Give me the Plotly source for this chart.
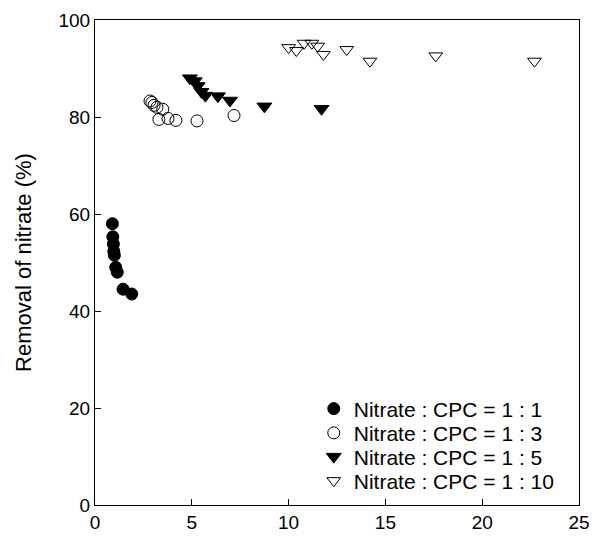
import plotly.graph_objects as go

# Data
x_11 = [0.9, 0.92, 0.95, 0.97, 1.0, 1.07, 1.15, 1.45, 1.9]
y_11 = [58.0, 55.3, 53.8, 52.3, 51.5, 49.0, 48.0, 44.5, 43.5]

x_13 = [2.84, 2.94, 3.05, 3.2, 3.5, 3.3, 3.77, 4.18, 5.27, 7.18]
y_13 = [83.3, 83.0, 82.4, 82.0, 81.6, 79.5, 79.7, 79.3, 79.2, 80.3]

x_15 = [4.9, 5.15, 5.3, 5.5, 5.7, 6.35, 6.97, 8.75, 11.7]
y_15 = [88.0, 87.4, 86.4, 85.2, 84.4, 84.3, 83.4, 82.2, 81.7]

x_110 = [10.0, 10.4, 10.8, 11.2, 11.5, 11.8, 13.0, 14.2, 17.6, 22.7]
y_110 = [94.3, 93.7, 95.2, 95.2, 94.6, 92.9, 93.9, 91.5, 92.6, 91.5]

labels = ["Nitrate : CPC = 1 : 1", "Nitrate : CPC = 1 : 3",
          "Nitrate : CPC = 1 : 5", "Nitrate : CPC = 1 : 10"]

x_ticks = [0, 5, 10, 15, 20, 25]
y_ticks = [0, 20, 40, 60, 80, 100]

series = [
    (x_11, y_11, "circle", 12),
    (x_13, y_13, "circle-open", 12),
    (x_15, y_15, "triangle-down", 13),
    (x_110, y_110, "triangle-down-open", 12),
]
legend_ids = ["legend", "legend2", "legend3", "legend4"]
legend_y = [0.198, 0.148, 0.099, 0.0495]

fig = go.Figure()
for (xs, ys, sym, sz), name, lid in zip(series, labels, legend_ids):
    fig.add_trace(go.Scatter(x=xs, y=ys, mode="markers", name=name, legend=lid,
                             marker=dict(symbol=sym, size=sz, color="black",
                                         line=dict(color="black", width=1))))

axis_common = dict(showgrid=False, zeroline=False, showline=True, linecolor="black",
                   linewidth=1, mirror=True, ticks="inside", ticklen=6, automargin=False,
                   tickcolor="black", tickfont=dict(family="Liberation Sans, Arial", size=19, color="black"))

layout_legends = {}
for lid, ly in zip(legend_ids, legend_y):
    layout_legends[lid] = dict(x=0.452, y=ly, xanchor="left", yanchor="middle",
                               bgcolor="rgba(0,0,0,0)", font=dict(size=21),
                               borderwidth=0)

fig.update_layout(
    width=597, height=537,
    margin=dict(l=95, r=18, t=20, b=32),
    paper_bgcolor="white", plot_bgcolor="white",
    font=dict(family="Liberation Sans, Arial", color="black"),
    xaxis=dict(range=[0, 25], tickvals=x_ticks, **axis_common),
    yaxis=dict(range=[0, 100], tickvals=y_ticks,
               title=dict(text="Removal of nitrate (%)", font=dict(size=22), standoff=20),
               **axis_common),
    showlegend=True,
    **layout_legends,
)

fig.write_html("out.html", post_script="document.body.style.margin='0';",
               config={"displayModeBar": False})
